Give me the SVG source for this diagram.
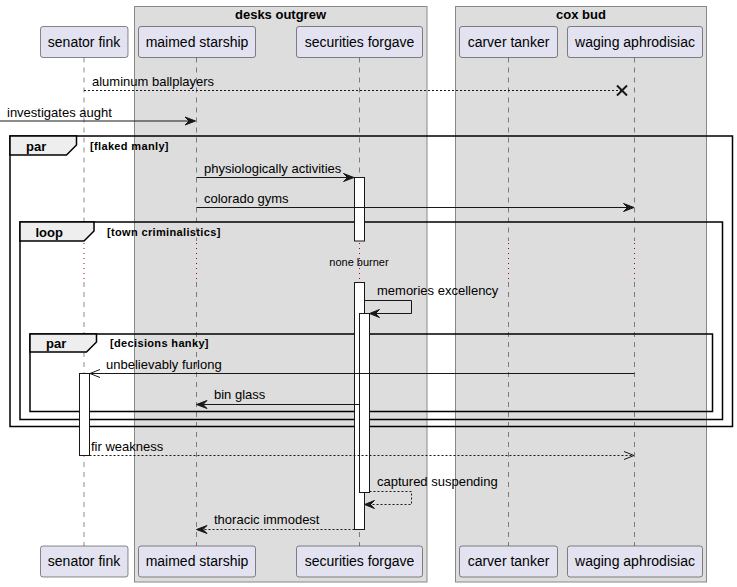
<svg xmlns="http://www.w3.org/2000/svg" width="737" height="587" viewBox="0 0 737 587">
<style>
.box{fill:#DDDDDD;stroke:#888888;stroke-width:1}
.btitle{font-family:"Liberation Sans",Arial,sans-serif;font-size:13px;font-weight:bold;fill:#000;text-anchor:middle}
.part rect{fill:#E2E2F0;stroke:#181818;stroke-width:0.5}
.part text{font-family:"Liberation Sans",Arial,sans-serif;font-size:14px;fill:#000;text-anchor:middle}
.life{stroke:#181818;stroke-width:0.5;stroke-dasharray:5,5;fill:none}
.delay{stroke:#A80036;stroke-width:1;stroke-dasharray:1,4;fill:none}
.frame{fill:none;stroke:#000;stroke-width:1.5}
.tab{fill:#EEEEEE;stroke:#000;stroke-width:1.5}
.flabel{font-family:"Liberation Sans",Arial,sans-serif;font-size:13px;font-weight:bold;fill:#000}
.fcond{font-family:"Liberation Sans",Arial,sans-serif;font-size:11px;font-weight:bold;fill:#000;letter-spacing:0.35px}
.act{fill:#FFFFFF;stroke:#181818;stroke-width:1}
.msg{stroke:#181818;stroke-width:1;fill:none}
.dot{stroke-dasharray:2,2}
.head{fill:#181818;stroke:#181818;stroke-width:1}
.open{fill:none;stroke:#181818;stroke-width:1}
.mtext{font-family:"Liberation Sans",Arial,sans-serif;font-size:13px;fill:#000}
.dtext{font-family:"Liberation Sans",Arial,sans-serif;font-size:11px;fill:#000;text-anchor:middle}
</style>
<rect width="737" height="587" fill="#FFFFFF"/>
<g id="box-desks-outgrew">
<rect class="box" x="134.5" y="6.5" width="292.5" height="575.5"/>
<text class="btitle" x="280.5" y="19">desks outgrew</text>
</g>
<g id="box-cox-bud">
<rect class="box" x="455.5" y="6.5" width="251" height="575.5"/>
<text class="btitle" x="581" y="19">cox bud</text>
</g>
<g id="lifelines">
<line class="life" x1="84" y1="57.5" x2="84" y2="241"/>
<line class="life" x1="84" y1="282" x2="84" y2="546"/>
<line class="life" x1="196.5" y1="57.5" x2="196.5" y2="241"/>
<line class="life" x1="196.5" y1="282" x2="196.5" y2="546"/>
<line class="life" x1="359.5" y1="57.5" x2="359.5" y2="241"/>
<line class="life" x1="359.5" y1="282" x2="359.5" y2="546"/>
<line class="life" x1="508.5" y1="57.5" x2="508.5" y2="241"/>
<line class="life" x1="508.5" y1="282" x2="508.5" y2="546"/>
<line class="life" x1="634.5" y1="57.5" x2="634.5" y2="241"/>
<line class="life" x1="634.5" y1="282" x2="634.5" y2="546"/>
<line class="delay" x1="84" y1="243" x2="84" y2="282"/>
<line class="delay" x1="196.5" y1="243" x2="196.5" y2="282"/>
<line class="delay" x1="359.5" y1="243" x2="359.5" y2="282"/>
<line class="delay" x1="508.5" y1="243" x2="508.5" y2="282"/>
<line class="delay" x1="634.5" y1="243" x2="634.5" y2="282"/>
</g>
<g id="p-senator-fink" class="part">
<rect x="40.5" y="26.5" width="87.5" height="31" rx="2.5"/>
<text x="84" y="46.5">senator fink</text>
<rect x="40.5" y="546" width="87.5" height="31" rx="2.5"/>
<text x="84" y="566">senator fink</text>
</g>
<g id="p-maimed-starship" class="part">
<rect x="138.5" y="26.5" width="117" height="31" rx="2.5"/>
<text x="197" y="46.5">maimed starship</text>
<rect x="138.5" y="546" width="117" height="31" rx="2.5"/>
<text x="197" y="566">maimed starship</text>
</g>
<g id="p-securities-forgave" class="part">
<rect x="296.5" y="26.5" width="126" height="31" rx="2.5"/>
<text x="359.5" y="46.5">securities forgave</text>
<rect x="296.5" y="546" width="126" height="31" rx="2.5"/>
<text x="359.5" y="566">securities forgave</text>
</g>
<g id="p-carver-tanker" class="part">
<rect x="459.5" y="26.5" width="98" height="31" rx="2.5"/>
<text x="508.5" y="46.5">carver tanker</text>
<rect x="459.5" y="546" width="98" height="31" rx="2.5"/>
<text x="508.5" y="566">carver tanker</text>
</g>
<g id="p-waging-aphrodisiac" class="part">
<rect x="567.5" y="26.5" width="135" height="31" rx="2.5"/>
<text x="635" y="46.5">waging aphrodisiac</text>
<rect x="567.5" y="546" width="135" height="31" rx="2.5"/>
<text x="635" y="566">waging aphrodisiac</text>
</g>
<g id="fragments">
<rect class="frame" x="10" y="136" width="722.5" height="290.5"/>
<polygon class="tab" points="10,136 76.5,136 76.5,145 66.5,155 10,155"/>
<text class="flabel" x="26" y="151">par</text>
<text class="fcond" x="90" y="150">[flaked manly]</text>
<rect class="frame" x="20" y="222" width="702.5" height="197.5"/>
<polygon class="tab" points="20,222 94,222 94,231 84,241 20,241"/>
<text class="flabel" x="35.5" y="237">loop</text>
<text class="fcond" x="107" y="236">[town criminalistics]</text>
<rect class="frame" x="30" y="334" width="682.5" height="77.5"/>
<polygon class="tab" points="30,334 96.5,334 96.5,342 86.5,352 30,352"/>
<text class="flabel" x="46" y="348">par</text>
<text class="fcond" x="110" y="347">[decisions hanky]</text>
</g>
<g id="activations">
<rect class="act" x="354.5" y="177.5" width="10" height="63.5"/>
<rect class="act" x="354.5" y="282.5" width="10" height="247"/>
<rect class="act" x="359.5" y="313.5" width="10" height="179"/>
<rect class="act" x="79.5" y="373.5" width="10" height="82"/>
</g>
<g id="connectors">
<line class="msg dot" x1="84" y1="90.5" x2="622" y2="90.5"/>
<path d="M617,85.5 L627,95.5 M617,95.5 L627,85.5" stroke="#181818" stroke-width="2" fill="none"/>
<text class="mtext" x="92" y="86">aluminum ballplayers</text>

<line class="msg" x1="0" y1="121" x2="194" y2="121"/>
<polygon class="head" points="185,117 195.5,121 185,125 189,121"/>
<text class="mtext" x="7" y="116.5">investigates aught</text>

<line class="msg" x1="196.5" y1="177.5" x2="352" y2="177.5"/>
<polygon class="head" points="343.5,173.5 354,177.5 343.5,181.5 347.5,177.5"/>
<text class="mtext" x="204" y="173">physiologically activities</text>

<line class="msg" x1="196.5" y1="207.5" x2="632" y2="207.5"/>
<polygon class="head" points="623.5,203.5 634,207.5 623.5,211.5 627.5,207.5"/>
<text class="mtext" x="204" y="203">colorado gyms</text>

<text class="dtext" x="359" y="266">none burner</text>

<polyline class="msg" points="364.5,300.5 411.5,300.5 411.5,313.5 371,313.5"/>
<polygon class="head" points="379.5,309.5 369.5,313.5 379.5,317.5 375.5,313.5"/>
<text class="mtext" x="377" y="295">memories excellency</text>

<line class="msg" x1="634.5" y1="373.5" x2="90" y2="373.5"/>
<polyline class="open" points="100,369.5 90,373.5 100,377.5"/>
<text class="mtext" x="106" y="369">unbelievably furlong</text>

<line class="msg" x1="359.5" y1="404.5" x2="198" y2="404.5"/>
<polygon class="head" points="207,400.5 196.5,404.5 207,408.5 203,404.5"/>
<text class="mtext" x="214" y="398.5">bin glass</text>

<line class="msg dot" x1="89.5" y1="455.5" x2="633" y2="455.5"/>
<polyline class="open" points="624,451.5 634,455.5 624,459.5"/>
<text class="mtext" x="91" y="451">fir weakness</text>

<polyline class="msg dot" points="369.5,491.5 411.5,491.5 411.5,504.5 366,504.5"/>
<polygon class="head" points="374.5,500.5 364.5,504.5 374.5,508.5 370.5,504.5"/>
<text class="mtext" x="377" y="486">captured suspending</text>

<line class="msg dot" x1="354.5" y1="529.5" x2="198" y2="529.5"/>
<polygon class="head" points="207,525.5 196.5,529.5 207,533.5 203,529.5"/>
<text class="mtext" x="214" y="524">thoracic immodest</text>
</g>
</svg>
